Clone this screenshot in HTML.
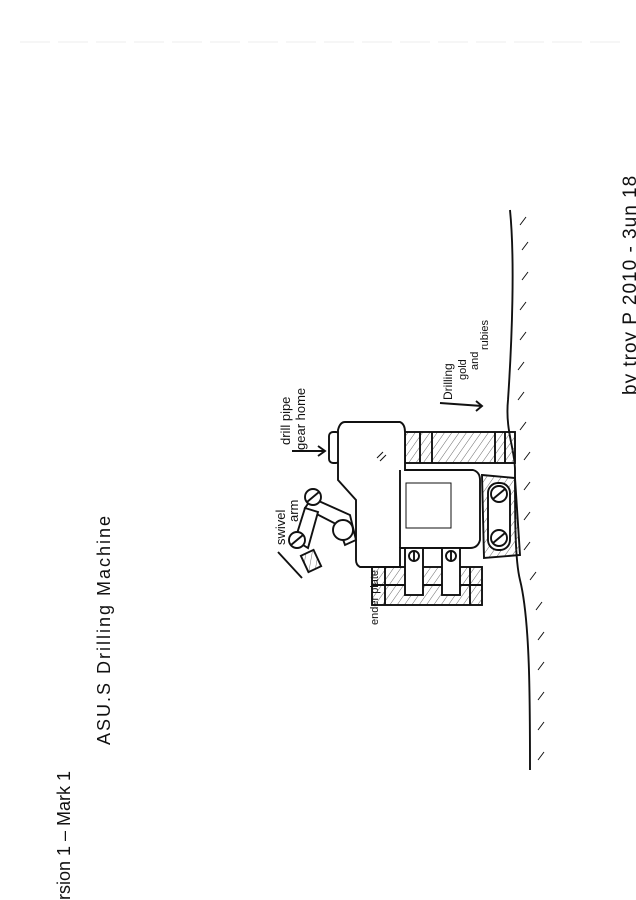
<!DOCTYPE html>
<html><head><meta charset="utf-8"><style>
html,body{margin:0;padding:0;background:#fff;}
svg{display:block}
text{font-family:"Liberation Sans",sans-serif;fill:#111}
</style></head><body>
<svg width="636" height="900" viewBox="0 0 636 900" xmlns="http://www.w3.org/2000/svg">
<defs>
<pattern id="h" width="6" height="6" patternUnits="userSpaceOnUse" patternTransform="rotate(35)">
<line x1="0" y1="0" x2="0" y2="6" stroke="#444" stroke-width="0.8"/></pattern>
</defs>
<rect width="636" height="900" fill="#fff"/>
<line x1="20" y1="42" x2="620" y2="42" stroke="#eee" stroke-width="1" stroke-dasharray="30 8"/>
<g fill="none" stroke="#111" stroke-width="1.9">
<path d="M510 210 C515 260 512 340 508 400 C505 430 515 450 515 470 C515 520 515 560 520 580 C530 620 530 700 530 770"/>
<path d="M520 225 l6 -8 M522 250 l6 -8 M522 280 l6 -8 M520 310 l6 -8 M520 340 l6 -8 M518 370 l6 -8 M518 400 l6 -8 M520 430 l6 -8 M524 460 l6 -8 M524 490 l6 -8 M524 520 l6 -8 M524 550 l6 -8 M530 580 l6 -8 M536 610 l6 -8 M538 640 l6 -8 M538 670 l6 -8 M538 700 l6 -8 M538 730 l6 -8 M538 760 l6 -8" stroke-width="1"/>
<rect x="405" y="432" width="110" height="31" fill="url(#h)"/>
<line x1="420" y1="432" x2="420" y2="463"/><line x1="432" y1="432" x2="432" y2="463"/>
<line x1="495" y1="432" x2="495" y2="463"/><line x1="505" y1="432" x2="505" y2="463"/>
<rect x="329" y="432" width="11" height="31" rx="4" fill="#fff"/>
<rect x="372" y="567" width="110" height="38" fill="url(#h)"/>
<line x1="372" y1="585" x2="482" y2="585"/>
<line x1="385" y1="567" x2="385" y2="605"/><line x1="470" y1="567" x2="470" y2="605"/>
<path d="M345 422 L400 422 Q405 424 405 432 L405 470 L473 470 Q480 472 480 480 L480 540 Q478 548 470 548 L400 548 L400 567 L360 567 Q356 565 356 560 L356 500 L338 480 L338 430 Q340 422 345 422 Z" fill="#fff"/>
<line x1="400" y1="470" x2="400" y2="548"/>
<rect x="406" y="483" width="45" height="45" stroke-width="1"/>
<line x1="377" y1="458" x2="383" y2="452" stroke-width="1"/><line x1="380" y1="461" x2="386" y2="455" stroke-width="1"/>
<rect x="405" y="548" width="18" height="47" fill="#fff"/>
<rect x="442" y="548" width="18" height="47" fill="#fff"/>
<circle cx="414" cy="556" r="5"/><line x1="414" y1="551" x2="414" y2="561"/>
<circle cx="451" cy="556" r="5"/><line x1="451" y1="551" x2="451" y2="561"/>
<path d="M482 475 L515 478 L520 555 L484 558 Z" fill="url(#h)"/>
<rect x="488" y="483" width="22" height="67" rx="10" fill="#fff"/>
<circle cx="499" cy="494" r="8" fill="#fff"/><circle cx="499" cy="538" r="8" fill="#fff"/>
<line x1="493" y1="499" x2="505" y2="489"/><line x1="493" y1="543" x2="505" y2="533"/>
<path d="M312 498 L350 515 L356 540 L345 545 L338 525 L305 508 Z" fill="#fff"/>
<path d="M305 508 L295 540 L308 548 L318 512 Z" fill="#fff"/>
<circle cx="313" cy="497" r="8" fill="#fff"/><line x1="307" y1="502" x2="319" y2="492"/>
<circle cx="297" cy="540" r="8" fill="#fff"/><line x1="291" y1="545" x2="303" y2="535"/>
<circle cx="343" cy="530" r="10" fill="#fff"/>
<rect x="304" y="552" width="14" height="18" fill="url(#h)" transform="rotate(-25 311 561)"/>
<line x1="278" y1="552" x2="302" y2="578"/>
<path d="M292 451 L325 451 M318 446 L325 451 L318 456"/>
<path d="M440 403 L482 406 M476 401 L482 406 L476 411"/>
</g>
<g font-size="13">
<text transform="translate(110,745) rotate(-90)" font-size="18" letter-spacing="2">ASU.S  Drilling  Machine</text>
<text transform="translate(70,900) rotate(-90)" font-size="18">rsion  1  –  Mark  1</text>
<text transform="translate(290,445) rotate(-90)">drill pipe</text>
<text transform="translate(305,450) rotate(-90)">gear  home</text>
<text transform="translate(285,545) rotate(-90)">swivel</text>
<text transform="translate(298,522) rotate(-90)">arm</text>
<text transform="translate(378,625) rotate(-90)" font-size="11">ender plate</text>
<text transform="translate(452,400) rotate(-90)" font-size="12">Drilling</text>
<text transform="translate(466,380) rotate(-90)" font-size="11">gold</text>
<text transform="translate(478,370) rotate(-90)" font-size="11">and</text>
<text transform="translate(488,350) rotate(-90)" font-size="11">rubies</text>
<text transform="translate(636,395) rotate(-90)" font-size="19" letter-spacing="1">by  troy P  2010 - 3un 18</text>
</g>
</svg>
</body></html>
